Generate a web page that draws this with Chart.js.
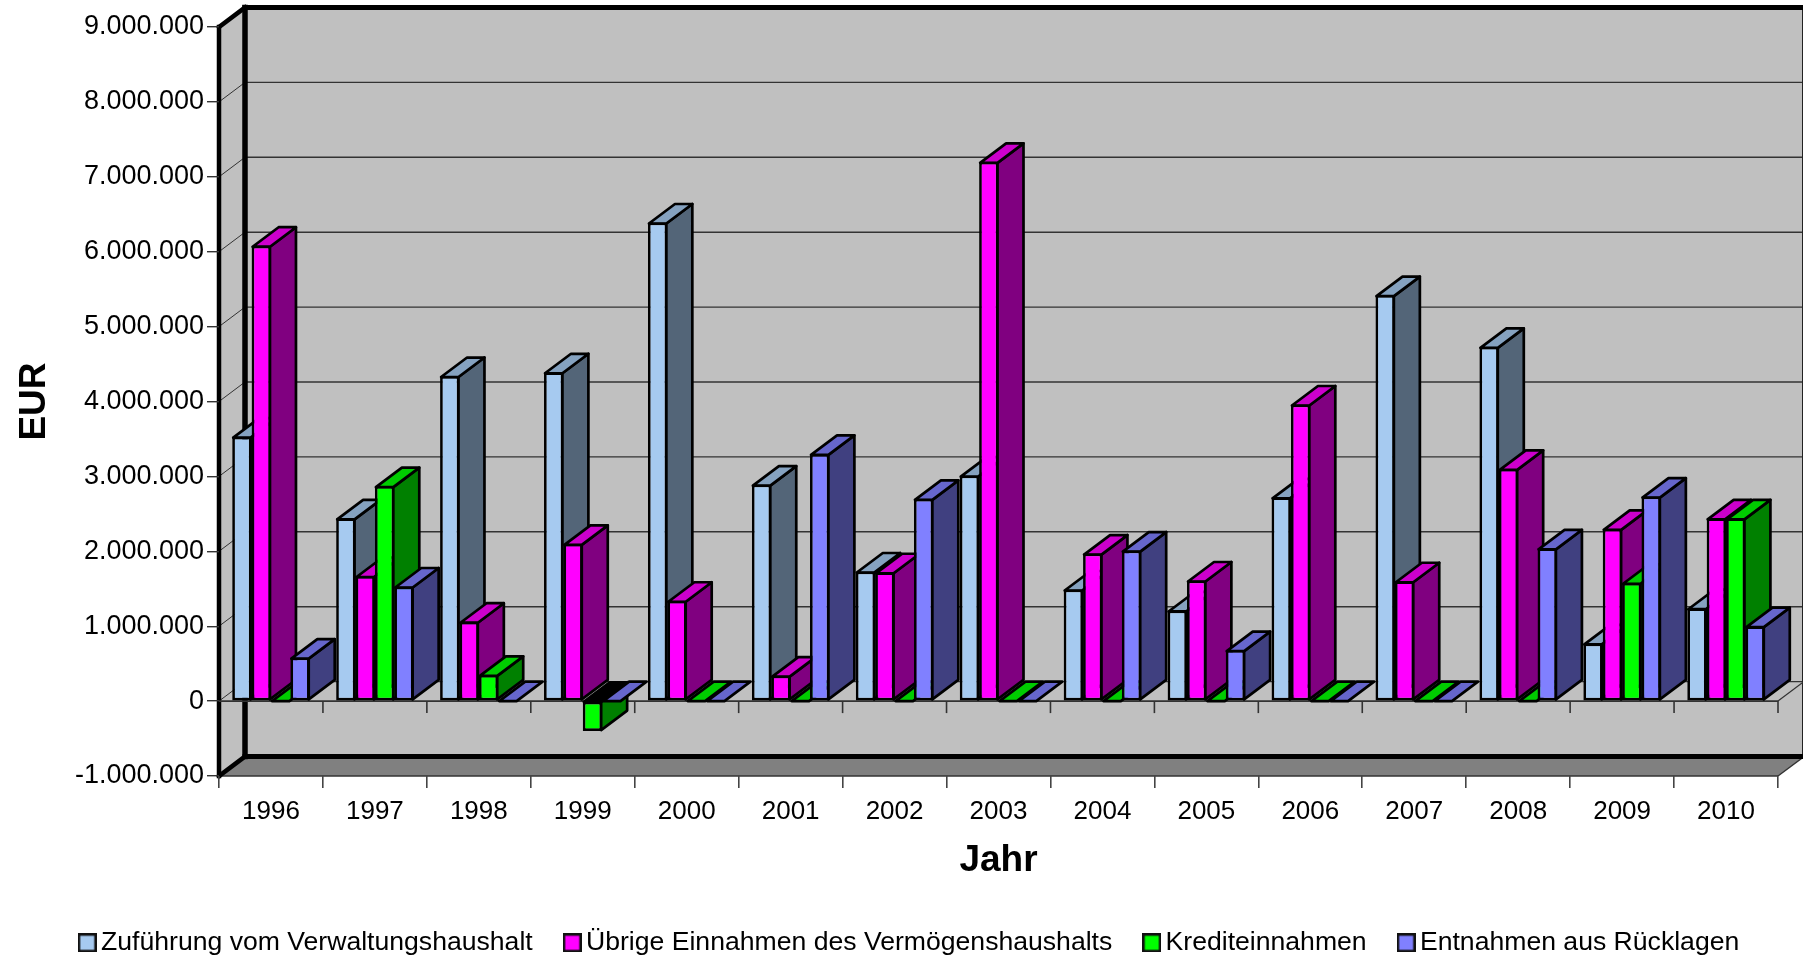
<!DOCTYPE html>
<html><head><meta charset="utf-8">
<style>html,body{margin:0;padding:0;background:#fff}canvas{display:block}</style>
<script src="https://cdn.jsdelivr.net/npm/chart.js@4/dist/chart.umd.min.js"></script>
</head><body>
<canvas id="c" width="1803" height="959"></canvas>
<script>
const years = ['1996','1997','1998','1999','2000','2001','2002','2003','2004','2005','2006','2007','2008','2009','2010'];
const seriesNames = ['Zuführung vom Verwaltungshaushalt','Übrige Einnahmen des Vermögenshaushalts','Krediteinnahmen','Entnahmen aus Rücklagen'];
const zufuehrung = [3530000,2440000,4340000,4390000,6390000,2890000,1730000,3010000,1490000,1210000,2720000,5420000,4730000,770000,1240000];
const uebrige    = [6080000,1670000,1060000,2100000,1340000,340000,1720000,7200000,1970000,1610000,3960000,1600000,3100000,2300000,2440000];
const kredite    = [0,2870000,350000,-400000,0,0,0,0,0,0,0,0,0,1580000,2440000];
const entnahmen  = [580000,1530000,0,0,0,3300000,2700000,0,2010000,680000,0,0,2040000,2730000,1000000];
const frontColors = ['#A6CAF0','#FF00FF','#00FF00','#8080FF'];
const topColors   = ['#85A2C0','#CC00CC','#00CC00','#6666CC'];
const sideColors  = ['#536578','#800080','#008000','#404080'];

const DX = 26, DY = 19.5;
const FONT = '"Liberation Sans", Arial, sans-serif';
const fmt = v => String(v).replace('-', '\u0001').replace(/\B(?=(\d{3})+(?!\d))/g,'.').replace('\u0001','-');

function swatch(color){
  const c = document.createElement('canvas'); c.width = 19; c.height = 19;
  const g = c.getContext('2d');
  g.fillStyle = '#111'; g.fillRect(0,0,19,19);
  g.fillStyle = color; g.fillRect(2.5,2.5,14,14);
  return c;
}
function poly(ctx, pts, fill, stroke, lw){
  ctx.beginPath();
  pts.forEach((p,i)=> i? ctx.lineTo(p[0],p[1]) : ctx.moveTo(p[0],p[1]));
  ctx.closePath();
  if (fill){ ctx.fillStyle = fill; ctx.fill(); }
  if (stroke){ ctx.strokeStyle = stroke; ctx.lineWidth = lw; ctx.stroke(); }
}
function line(ctx, x1,y1,x2,y2, color, lw){
  ctx.beginPath(); ctx.moveTo(x1,y1); ctx.lineTo(x2,y2);
  ctx.strokeStyle = color; ctx.lineWidth = lw; ctx.stroke();
}

const box3d = {
  id:'box3d',
  afterLayout(chart){
    const lg = chart.legend;
    lg.left += 24; lg.right += 24;
    lg.top = 890.5; lg.bottom = 890.5 + lg.height;
  },
  beforeDraw(chart){
    const ctx = chart.ctx, a = chart.chartArea, y = chart.scales.y;
    const L=a.left, R=a.right, T=a.top, B=a.bottom;
    ctx.save(); ctx.lineJoin='round';
    poly(ctx,[[L+DX,T-DY],[R+DX,T-DY],[R+DX,B-DY],[L+DX,B-DY]],'#C0C0C0');
    poly(ctx,[[L,T],[L+DX,T-DY],[L+DX,B-DY],[L,B]],'#C0C0C0');
    poly(ctx,[[L,B],[L+DX,B-DY],[R+DX,B-DY],[R,B]],'#808080');
    y.ticks.forEach(t=>{
      const p = y.getPixelForValue(t.value);
      if (t.value===y.min || t.value===y.max) return;
      line(ctx,L+DX,p-DY,R+DX,p-DY,'#333',1.4);
      line(ctx,L,p,L+DX,p-DY,'#333',1);
    });
    line(ctx,L,B,R,B,'#333',1.6);
    line(ctx,R,B,R+DX,B-DY,'#333',1.4);
    line(ctx,R+DX-1,T-DY,R+DX-1,B-DY,'#222',2);
    ctx.lineCap='square';
    line(ctx,L+DX,T-DY,R+DX,T-DY,'#000',5);
    line(ctx,L+DX,B-DY,R+DX,B-DY,'#000',5);
    line(ctx,L+DX,T-DY,L+DX,B-DY,'#000',5.5);
    line(ctx,L,T,L,B,'#000',4.5);
    line(ctx,L,T,L+DX,T-DY,'#000',4.5);
    line(ctx,L,B,L+DX,B-DY,'#000',4.5);
    ctx.restore();
  },
  beforeDatasetsDraw(chart){
    const ctx = chart.ctx, a = chart.chartArea, x = chart.scales.x, y = chart.scales.y;
    const zero = y.getPixelForValue(0);
    ctx.save();
    line(ctx,a.left,zero,a.right,zero,'#333',1.6);
    line(ctx,a.right,zero,a.right+DX,zero-DY,'#333',1.2);
    const step = x.getPixelForValue(1)-x.getPixelForValue(0);
    for (let i=0;i<=years.length;i++){
      const px = x.getPixelForValue(0)-step/2+i*step;
      if (i>0) line(ctx,px,zero,px,zero+12,'#333',1.6);
    }
    ctx.lineJoin='round';
    chart.data.datasets.forEach((ds,i)=>{
      const meta = chart.getDatasetMeta(i);
      meta.data.forEach((el,j)=>{
        const r = el.x+el.width/2-1, l = el.x-el.width/2+1;
        const neg = ds.data[j]<0;
        const flat = el.y===el.base;
        const top = neg||flat ? el.base : el.y+1;
        const bot = flat ? el.base : Math.max(el.y,el.base)-1;
        if (bot>top) poly(ctx,[[r,top],[r+DX,top-DY],[r+DX,bot-DY],[r,bot]],sideColors[i],'#000',2.7);
        poly(ctx,[[l,top],[l+DX,top-DY],[r+DX,top-DY],[r,top]],neg?'#000':topColors[i],'#000',2.7);
      });
      meta.controller.draw();
    });
    ctx.restore();
    return false;
  }
};

new Chart(document.getElementById('c'),{
  type:'bar',
  data:{labels:years,datasets:[zufuehrung,uebrige,kredite,entnahmen].map((d,i)=>({
    label:seriesNames[i],data:d,backgroundColor:frontColors[i],borderColor:'#000',
    borderWidth:2.7,borderSkipped:false,inflateAmount:0,
    categoryPercentage:77.5/103.93,barPercentage:1
  }))},
  plugins:[box3d],
  options:{
    responsive:false,animation:false,
    layout:{padding:{top:27,right:25,left:0,bottom:0}},
    plugins:{
      tooltip:{enabled:false},
      legend:{
        position:'bottom',
        labels:{
          color:'#000',font:{family:FONT,size:26.6},padding:39,usePointStyle:true,pointStyleWidth:1,
          generateLabels(chart){
            return chart.data.datasets.map((d,i)=>({text:d.label,datasetIndex:i,pointStyle:swatch(frontColors[i]),fontColor:'#000',lineWidth:0}));
          }
        }
      }
    },
    scales:{
      x:{
        afterFit(s){s.height = 959 - 776 - (s.chart.legend ? s.chart.legend.height : 76);},
        grid:{offset:true,drawOnChartArea:false,tickLength:12,color:'#444',lineWidth:1.6},
        border:{display:false},
        ticks:{color:'#000',font:{family:FONT,size:26},padding:8,maxRotation:0,autoSkip:false},
        title:{display:true,text:'Jahr',color:'#000',font:{family:FONT,size:37,weight:'bold'},padding:{top:0,bottom:0}}
      },
      y:{
        min:-1000000,max:9000000,
        afterFit(s){s.width=219;},
        grid:{drawOnChartArea:false,tickLength:12,color:'#333',lineWidth:1.4},
        border:{display:false},
        ticks:{stepSize:1000000,color:'#000',font:{family:FONT,size:27},padding:3,callback:v=>fmt(v)},
        title:{display:true,text:'EUR',color:'#000',font:{family:FONT,size:37,weight:'bold'},padding:{top:13,bottom:0}}
      }
    }
  }
});
</script>
</body></html>
